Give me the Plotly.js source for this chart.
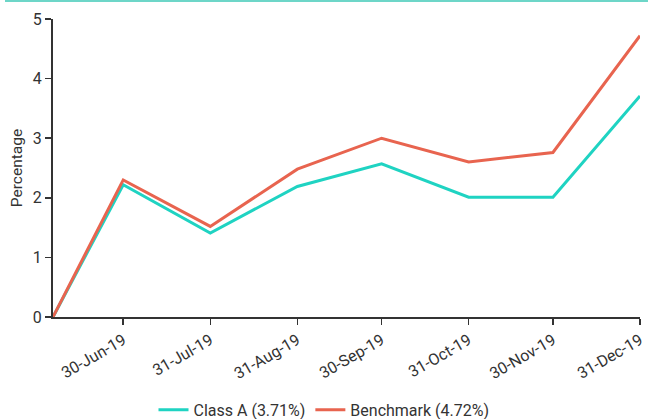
<!DOCTYPE html>
<html>
<head>
<meta charset="utf-8">
<script src="https://cdn.plot.ly/plotly-3.0.1.min.js"></script>
<style>html,body{margin:0;padding:0;background:#fff;}#chart{width:648px;height:419px;}</style>
</head>
<body>
<div id="chart"></div>
<script>
const dates = ["2019-06-05","2019-06-30","2019-07-31","2019-08-31","2019-09-30","2019-10-31","2019-11-30","2019-12-31"];
const classA = [0, 2.22, 1.41, 2.19, 2.57, 2.01, 2.01, 3.71];
const benchmark = [0, 2.30, 1.52, 2.48, 3.00, 2.60, 2.76, 4.72];
const tickDates = ["2019-06-30","2019-07-31","2019-08-31","2019-09-30","2019-10-31","2019-11-30","2019-12-31"];
const tickLabels = ["30-Jun-19","31-Jul-19","31-Aug-19","30-Sep-19","31-Oct-19","30-Nov-19","31-Dec-19"];
const seriesNames = ["Class A (3.71%)","Benchmark (4.72%)"];

const traces = [
  {x: dates, y: classA, name: seriesNames[0], type: "scatter", mode: "lines",
   line: {color: "#1fd3c2", width: 3}},
  {x: dates, y: benchmark, name: seriesNames[1], type: "scatter", mode: "lines",
   line: {color: "#e8644f", width: 3}}
];

const layout = {
  width: 648, height: 419,
  margin: {l: 53, r: 8, t: 19, b: 102, autoexpand: false},
  paper_bgcolor: "#fff", plot_bgcolor: "#fff",
  font: {family: "Roboto, sans-serif", size: 16, color: "#333"},
  showlegend: true,
  legend: {orientation: "h", x: 0.5, xref: "container", xanchor: "center",
           y: 0.022, yref: "container", yanchor: "middle", font: {size: 16, color: "#333"},
           tracegroupgap: 0},
  xaxis: {
    type: "date", range: [dates[0], dates[dates.length - 1]],
    tickmode: "array", tickvals: tickDates, ticktext: tickLabels,
    tickangle: -30, ticks: "outside", ticklen: 6, tickwidth: 1.5, tickcolor: "#333",
    automargin: false,
    showline: true, linecolor: "#333", linewidth: 2, showgrid: false, zeroline: false,
    tickfont: {size: 16, color: "#333"}, fixedrange: true
  },
  yaxis: {
    range: [0, 5], dtick: 1, ticks: "outside", ticklen: 6, tickwidth: 1.5, tickcolor: "#333",
    showline: true, linecolor: "#333", linewidth: 2, showgrid: false, zeroline: false,
    automargin: false,
    title: {text: "Percentage", font: {size: 15.5, color: "#333"}, standoff: 6},
    tickfont: {size: 16, color: "#333"}
  },
  shapes: [
    {type: "line", xref: "paper", yref: "paper", x0: -0.0818, x1: 1.0136, y0: 1.0604, y1: 1.0604,
     line: {color: "#3cc9b6", width: 1.5}}
  ]
};

Plotly.newPlot("chart", traces, layout, {displayModeBar: false, staticPlot: true});
</script>
</body>
</html>
